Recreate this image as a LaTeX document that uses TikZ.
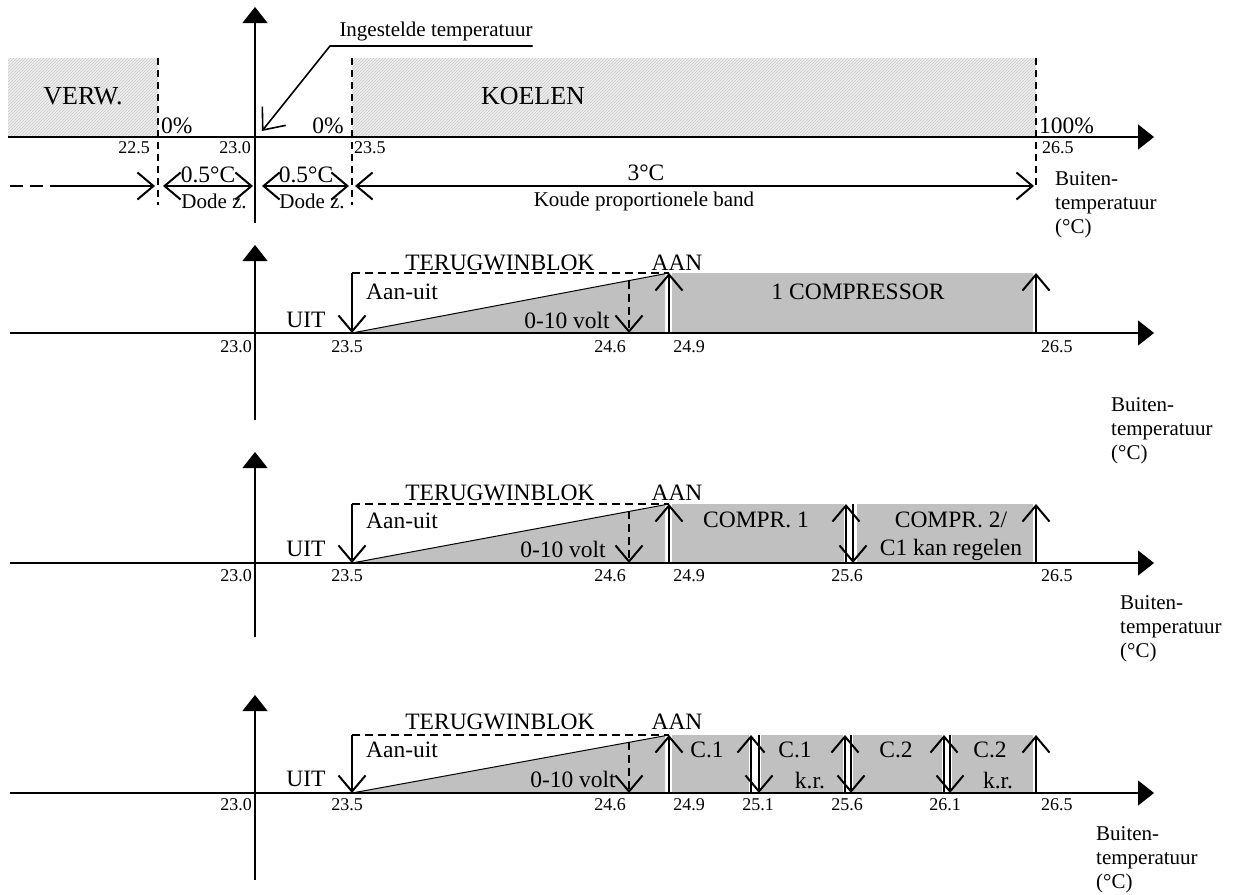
\documentclass[tikz,border=0pt]{standalone}
\usepackage{fontspec}
\setmainfont{Liberation Serif}
\usetikzlibrary{arrows.meta,patterns}
\definecolor{bandgray}{RGB}{192,192,192}
\definecolor{hatchgray}{RGB}{200,200,200}
\definecolor{hatchback}{RGB}{240,240,240}

\begin{document}
\begin{tikzpicture}[x=1pt,y=-1pt,
    ax/.style={line width=1.2pt,-{Triangle[length=16pt,width=25pt]}},
    barb/.style={line width=2pt,-{Straight Barb[length=16pt,width=27pt]}},
    dbl/.style={line width=2pt,{Straight Barb[length=16pt,width=27pt]}-{Straight Barb[length=16pt,width=27pt]}},
    dashline/.style={line width=1.8pt,dash pattern=on 8pt off 5pt},
    thindash/.style={line width=1.4pt,dash pattern=on 7pt off 5pt},
    lblhuge/.style={inner sep=0pt,font=\fontsize{26}{28}\selectfont},
    lblbig/.style={inner sep=0pt,font=\fontsize{23.5}{26}\selectfont},
    lblmed/.style={inner sep=0pt,font=\fontsize{21}{24}\selectfont},
    lblsmall/.style={inner sep=0pt,font=\fontsize{18}{20}\selectfont},
    buiten/.style={lblmed,anchor=north west,align=left}]
  \useasboundingbox (0,0) rectangle (1233,894);

  % --- bovenste diagram: verwarmen / koelen
  \fill[hatchback] (8,58) rectangle (158,137);
  \path[pattern=north east lines,pattern color=hatchgray] (8,58) rectangle (158,137);
  \fill[hatchback] (352,58) rectangle (1036,137);
  \path[pattern=north east lines,pattern color=hatchgray] (352,58) rectangle (1036,137);
  \node[lblhuge] (verw) at (83,96) {VERW.};
  \node[lblhuge] (koelen) at (533,96) {KOELEN};
  \draw[thindash] (158,58) -- (158,205);
  \draw[thindash] (352,58) -- (352,205);
  \draw[thindash] (1036,58) -- (1036,190);
  \draw[ax] (8,137) -- (1154,137);
  \draw[ax] (255,223) -- (255,7);
  \node[lblbig,anchor=west] (p0a) at (161,126) {0\%};
  \node[lblbig,anchor=east] (p0b) at (344,126) {0\%};
  \node[lblbig,anchor=west] (p100) at (1039,126) {100\%};
  \node[lblsmall,anchor=east] (t225) at (150,148) {22.5};
  \node[lblsmall,anchor=east] (t230a) at (251,148) {23.0};
  \node[lblsmall,anchor=west] (t235a) at (354,148) {23.5};
  \node[lblsmall,anchor=west] (t265a) at (1042,148) {26.5};
  \node[lblmed] (ingest) at (436,31) {Ingestelde temperatuur};
  \coordinate (knik) at (330,46);
  \coordinate (setp) at (262,131);
  \draw[line width=1.6pt,-{Straight Barb[length=18pt,width=30pt]}] (ingest.south east |- knik) -- (knik) -- (setp);
  % banden
  \draw[line width=2pt,dash pattern=on 13pt off 7pt] (10,186) -- (62,186);
  \draw[barb] (62,186) -- (155,186);
  \draw[dbl] (163,186) -- (253,186);
  \draw[dbl] (262,186) -- (349,186);
  \draw[dbl] (355,186) -- (1034,186);
  \node[lblbig] (dz1) at (208,175) {0.5°C};
  \node[lblmed] (dz1b) at (214,201) {Dode z.};
  \node[lblbig] (dz2) at (306,175) {0.5°C};
  \node[lblmed] (dz2b) at (312,201) {Dode z.};
  \node[lblbig] (pb) at (646,173) {3°C};
  \node[lblmed] (pbb) at (644,201) {Koude proportionele band};
  \node[buiten] (bt1) at (1055,171) {Buiten-\\temperatuur\\(°C)};

  % --- diagram 2: 1 compressor
  \fill[bandgray] (352,333) -- (665,274) -- (665,333) -- cycle;
  \fill[bandgray] (672,273) rectangle (1033,333);
  \draw[ax] (10,333) -- (1154,333);
  \draw[ax] (255,420) -- (255,245);
  \draw[line width=1pt] (352,333) -- (669,273);
  \draw[dashline] (352,273) -- (669,273);
  \draw[barb] (352,273) -- (352,333);
  \draw[barb,dash pattern=on 8pt off 5pt] (629,281) -- (629,333);
  \draw[barb] (669,333) -- (669,273);
  \draw[barb] (1036,333) -- (1036,273);
  \node[lblbig] (trg2) at (500,263) {TERUGWINBLOK};
  \node[lblbig] (aan2) at (677,263) {AAN};
  \node[lblbig] (aanuit2) at (402,292) {Aan-uit};
  \node[lblbig] (uit2) at (306,320) {UIT};
  \node[lblbig] (volt2) at (567,320) {0-10 volt};
  \node[lblbig] (comp2) at (858,292) {1 COMPRESSOR};
  \node[lblsmall,anchor=east] (t230b) at (252,347) {23.0};
  \node[lblsmall] (t235b) at (347,347) {23.5};
  \node[lblsmall] (t246b) at (610,347) {24.6};
  \node[lblsmall] (t249b) at (689,347) {24.9};
  \node[lblsmall,anchor=west] (t265b) at (1041,347) {26.5};
  \node[buiten] (bt2) at (1111,397) {Buiten-\\temperatuur\\(°C)};

  % --- diagram 3: twee compressoren
  \fill[bandgray] (352,563) -- (665,505) -- (665,563) -- cycle;
  \fill[bandgray] (672,504) rectangle (844,563);
  \fill[bandgray] (857,504) rectangle (1033,563);
  \draw[ax] (10,563) -- (1154,563);
  \draw[ax] (255,637) -- (255,452);
  \draw[line width=1pt] (352,563) -- (669,504);
  \draw[dashline] (352,504) -- (669,504);
  \draw[barb] (352,504) -- (352,563);
  \draw[barb,dash pattern=on 8pt off 5pt] (629,511) -- (629,563);
  \draw[barb] (669,563) -- (669,504);
  \draw[barb] (846,563) -- (846,504);
  \draw[barb] (853,504) -- (853,563);
  \draw[barb] (1036,563) -- (1036,504);
  \node[lblbig] (trg3) at (500,493) {TERUGWINBLOK};
  \node[lblbig] (aan3) at (677,493) {AAN};
  \node[lblbig] (aanuit3) at (402,521) {Aan-uit};
  \node[lblbig] (uit3) at (306,549) {UIT};
  \node[lblbig] (volt3) at (563,549) {0-10 volt};
  \node[lblbig] (c1c) at (756,520) {COMPR. 1};
  \node[lblbig] (c2c) at (951,520) {COMPR. 2/};
  \node[lblbig] (c2d) at (951,550) {C1 kan regelen};
  \node[lblsmall,anchor=east] (t230c) at (252,576) {23.0};
  \node[lblsmall] (t235c) at (347,576) {23.5};
  \node[lblsmall] (t246c) at (610,576) {24.6};
  \node[lblsmall] (t249c) at (689,576) {24.9};
  \node[lblsmall] (t256c) at (847,576) {25.6};
  \node[lblsmall,anchor=west] (t265c) at (1041,576) {26.5};
  \node[buiten] (bt3) at (1120,595) {Buiten-\\temperatuur\\(°C)};

  % --- diagram 4: compressoren met kleine regeling
  \fill[bandgray] (352,793) -- (665,736) -- (665,793) -- cycle;
  \fill[bandgray] (672,735) rectangle (749,793);
  \fill[bandgray] (761,735) rectangle (843,793);
  \fill[bandgray] (853,735) rectangle (942,793);
  \fill[bandgray] (952,735) rectangle (1033,793);
  \draw[ax] (10,793) -- (1154,793);
  \draw[ax] (255,880) -- (255,695);
  \draw[line width=1pt] (352,793) -- (669,735);
  \draw[dashline] (352,735) -- (669,735);
  \draw[barb] (352,735) -- (352,793);
  \draw[barb,dash pattern=on 8pt off 5pt] (629,742) -- (629,793);
  \draw[barb] (669,793) -- (669,735);
  \draw[barb] (751,793) -- (751,735);
  \draw[barb] (759,735) -- (759,793);
  \draw[barb] (845,793) -- (845,735);
  \draw[barb] (851,735) -- (851,793);
  \draw[barb] (944,793) -- (944,735);
  \draw[barb] (950,735) -- (950,793);
  \draw[barb] (1036,793) -- (1036,735);
  \node[lblbig] (trg4) at (500,722) {TERUGWINBLOK};
  \node[lblbig] (aan4) at (677,722) {AAN};
  \node[lblbig] (aanuit4) at (402,750) {Aan-uit};
  \node[lblbig] (uit4) at (306,779) {UIT};
  \node[lblbig] (volt4) at (573,779) {0-10 volt};
  \node[lblbig] (c1a) at (707,750) {C.1};
  \node[lblbig] (c1b) at (795,750) {C.1};
  \node[lblbig] (c1kr) at (810,781) {k.r.};
  \node[lblbig] (c2a) at (896,750) {C.2};
  \node[lblbig] (c2b) at (990,750) {C.2};
  \node[lblbig] (c2kr) at (998,781) {k.r.};
  \node[lblsmall,anchor=east] (t230d) at (252,805) {23.0};
  \node[lblsmall] (t235d) at (347,805) {23.5};
  \node[lblsmall] (t246d) at (610,805) {24.6};
  \node[lblsmall] (t249d) at (689,805) {24.9};
  \node[lblsmall] (t251d) at (758,805) {25.1};
  \node[lblsmall] (t256d) at (847,805) {25.6};
  \node[lblsmall] (t261d) at (945,805) {26.1};
  \node[lblsmall,anchor=west] (t265d) at (1041,805) {26.5};
  \node[buiten] (bt4) at (1096,826) {Buiten-\\temperatuur\\(°C)};
\end{tikzpicture}
\end{document}
